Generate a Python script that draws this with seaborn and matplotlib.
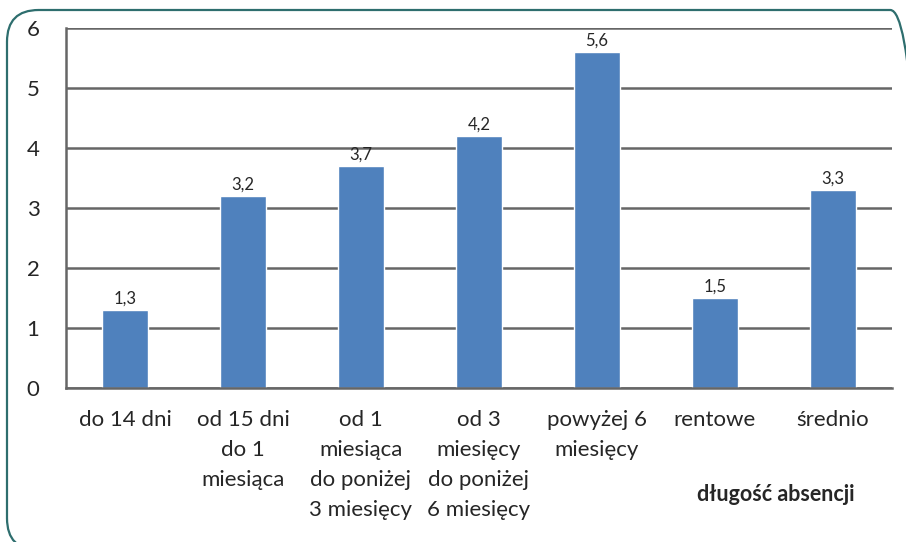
import matplotlib
matplotlib.use("Agg")
import matplotlib.pyplot as plt
import seaborn as sns
import pandas as pd
from matplotlib.patches import FancyBboxPatch

# Data
categories = ["do 14 dni", "od 15 dni\ndo 1\nmiesiąca", "od 1\nmiesiąca\ndo poniżej\n3 miesięcy",
              "od 3\nmiesięcy\ndo poniżej\n6 miesięcy", "powyżej 6\nmiesięcy", "rentowe", "średnio"]
values = [1.3, 3.2, 3.7, 4.2, 5.6, 1.5, 3.3]
value_labels = ["1,3", "3,2", "3,7", "4,2", "5,6", "1,5", "3,3"]

df = pd.DataFrame({"kat": categories, "val": values})

sns.set_style("white")
plt.rcParams['font.family'] = ['Lato', 'DejaVu Sans']

fig = plt.figure(figsize=(9.06, 5.42), dpi=100)
ax = fig.add_axes([0.0728, 0.2841, 0.9117, 0.6642])

sns.barplot(data=df, x="kat", y="val", color="#4F81BD", saturation=1, width=0.39, ax=ax)

# value labels
for i, v in enumerate(values):
    ax.text(i, v + 0.06, value_labels[i], ha="center", va="bottom", fontsize=12, color="#262626")

ax.set_ylim(0, 6)
ax.set_xlim(-0.5, len(categories) - 0.5)
ax.set_yticks(range(0, 7))
ax.yaxis.grid(True, color="#666666", linewidth=1.8)
ax.set_axisbelow(True)
ax.set_xlabel("")
ax.set_ylabel("")

for s in ["top", "right"]:
    ax.spines[s].set_visible(False)
for s in ["left", "bottom"]:
    ax.spines[s].set_color("#666666")
    ax.spines[s].set_linewidth(1.8)

# ticks at category boundaries
ax.set_xticks([i - 0.5 for i in range(len(categories) + 1)], minor=False)
ax.set_xticklabels([])
ax.set_xticks(range(len(categories)), minor=True)
ax.set_xticklabels(categories, minor=True, fontsize=16, color="#262626", linespacing=1.62, va="top")
ax.tick_params(axis="x", which="major", direction="out", length=7, width=1.8, color="#666666")
ax.tick_params(axis="x", which="minor", length=0, pad=16)
ax.tick_params(axis="y", direction="out", length=7, width=1.8, color="#666666", labelsize=16,
               labelcolor="#262626", pad=12)

fig.text(0.8565, 0.088, "długość absencji", ha="center", va="center", fontsize=15.5,
         fontweight="bold", color="#262626")

# rounded green frame (runs off the right and bottom edges)
frame = FancyBboxPatch((7 / 906, -8 / 542), 915 / 906, 540 / 542,
                       boxstyle="round,pad=0,rounding_size=0.035", transform=fig.transFigure,
                       facecolor="none", edgecolor="#2E6E6E", linewidth=1.6, mutation_aspect=906 / 542)
fig.patches.append(frame)

fig.savefig("out.png", dpi=100)
